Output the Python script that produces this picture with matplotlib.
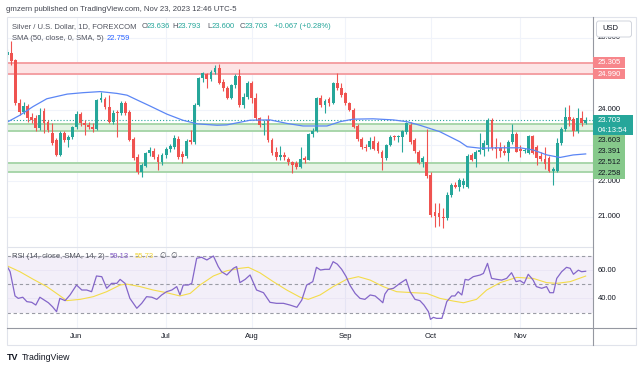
import numpy as np
import pandas as pd
import matplotlib
matplotlib.use("Agg")
import matplotlib.pyplot as plt
from matplotlib.patches import Rectangle, FancyBboxPatch

plt.rcParams['font.family'] = ['Liberation Sans', 'DejaVu Sans']

# ---------------- data ----------------
dates = pd.bdate_range('2023-05-09', '2023-11-23')

opens = [
    25.52, 25.59, 25.38, 24.19, 23.94, 24.10, 23.79, 23.75, 23.47, 23.95,
    23.66, 23.35, 23.15, 22.73, 23.34, 23.15, 23.22, 23.50, 23.87, 23.61,
    23.58, 23.52, 23.45, 24.27, 24.28, 24.08, 23.66, 23.93, 23.90, 24.19,
    23.94, 23.17, 22.66, 22.26, 22.42, 22.78, 22.85, 22.68, 22.54, 22.73,
    22.89, 22.95, 23.18, 22.75, 22.70, 23.15, 23.10, 24.13, 24.87, 24.98,
    24.84, 25.06, 25.15, 24.78, 24.59, 24.31, 24.68, 24.94, 24.13, 24.34,
    24.75, 24.31, 23.75, 23.57, 23.72, 23.15, 22.80, 22.66, 22.72, 22.62,
    22.52, 22.51, 22.40, 22.64, 22.60, 23.31, 23.41, 24.31, 24.13, 24.28,
    24.18, 24.73, 24.61, 24.45, 24.17, 23.99, 23.54, 23.17, 22.96, 22.94,
    23.12, 23.06, 22.82, 22.64, 23.01, 23.24, 23.22, 23.24, 23.38, 23.57,
    23.15, 22.82, 22.54, 22.52, 22.17, 21.15, 21.10, 21.00, 20.96, 21.61,
    21.89, 21.84, 21.90, 21.84, 22.72, 22.62, 22.81, 22.87, 23.00, 23.71,
    22.95, 22.92, 22.85, 22.78, 23.10, 23.32, 22.90, 22.85, 22.78, 23.27,
    22.96, 22.70, 22.62, 22.64, 22.29, 22.29, 23.06, 23.45, 23.78, 23.73,
    23.41, 23.75, 23.636]
highs = [
    25.70, 25.90, 25.42, 24.30, 24.22, 24.15, 23.90, 23.85, 24.04, 24.05,
    23.72, 23.62, 23.20, 23.40, 23.40, 23.30, 23.55, 23.95, 23.92, 23.70,
    23.65, 23.62, 24.30, 24.50, 24.35, 24.40, 23.98, 24.00, 24.25, 24.25,
    24.00, 23.22, 22.75, 22.50, 22.82, 22.95, 22.92, 22.75, 22.78, 22.95,
    23.05, 23.30, 23.25, 22.85, 23.18, 23.42, 24.18, 24.92, 25.05, 25.02,
    25.10, 25.24, 25.27, 24.85, 24.65, 24.72, 25.00, 25.12, 24.45, 24.80,
    24.80, 24.45, 23.80, 23.70, 23.85, 23.20, 22.96, 22.98, 22.80, 22.68,
    22.55, 22.55, 22.96, 22.70, 23.35, 23.48, 24.35, 24.40, 24.30, 24.35,
    24.78, 25.01, 24.75, 24.50, 24.22, 24.05, 23.60, 23.22, 23.05, 23.22,
    23.25, 23.12, 22.88, 23.05, 23.28, 23.30, 23.30, 23.42, 23.66, 23.65,
    23.20, 22.88, 22.70, 23.45, 22.25, 21.40, 21.38, 21.25, 21.70, 21.95,
    21.98, 22.10, 22.08, 22.75, 22.78, 22.86, 23.34, 23.15, 23.75, 23.75,
    23.20, 23.10, 23.00, 23.15, 23.60, 23.38, 23.00, 22.92, 23.30, 23.30,
    23.00, 22.80, 22.96, 22.70, 22.38, 23.20, 23.50, 24.08, 24.12, 23.78,
    24.05, 23.95, 23.793]
lows = [
    25.45, 25.25, 24.12, 23.85, 23.88, 23.66, 23.62, 23.40, 23.42, 23.35,
    23.38, 23.00, 22.70, 22.70, 23.10, 22.95, 23.18, 23.45, 23.55, 23.30,
    23.45, 23.38, 23.42, 24.20, 24.02, 23.62, 23.60, 23.24, 23.85, 23.85,
    23.12, 22.60, 22.20, 22.12, 22.38, 22.70, 22.62, 22.31, 22.45, 22.65,
    22.82, 22.90, 22.62, 22.50, 22.65, 23.05, 23.05, 24.10, 24.78, 24.59,
    24.80, 25.00, 24.70, 24.52, 24.28, 24.28, 24.60, 24.08, 24.05, 24.30,
    24.17, 23.70, 23.50, 23.29, 23.10, 22.72, 22.60, 22.60, 22.60, 22.45,
    22.24, 22.35, 22.36, 22.50, 22.58, 23.22, 23.38, 24.08, 23.91, 24.10,
    24.15, 24.55, 24.35, 24.12, 23.95, 23.48, 23.12, 22.90, 22.85, 22.90,
    22.86, 22.78, 22.31, 22.60, 22.98, 23.15, 23.10, 22.82, 23.32, 23.05,
    22.78, 22.48, 22.40, 22.10, 21.00, 20.73, 20.75, 20.68, 20.90, 21.55,
    21.80, 21.72, 21.80, 21.80, 22.55, 22.40, 22.75, 22.70, 22.85, 22.88,
    22.64, 22.68, 22.72, 22.55, 23.05, 22.80, 22.66, 22.78, 22.75, 22.75,
    22.45, 22.55, 22.35, 22.25, 21.89, 22.25, 23.00, 23.40, 23.55, 23.26,
    23.35, 23.55, 23.600]
closes = [
    25.61, 25.36, 24.17, 23.94, 24.10, 23.75, 23.71, 23.47, 23.85, 23.62,
    23.43, 23.06, 22.73, 23.34, 23.15, 23.24, 23.50, 23.87, 23.61, 23.57,
    23.52, 23.45, 24.27, 24.31, 24.08, 23.66, 23.91, 23.90, 24.19, 23.91,
    23.15, 22.64, 22.26, 22.45, 22.78, 22.87, 22.68, 22.54, 22.72, 22.89,
    22.98, 23.20, 22.68, 22.68, 23.12, 23.10, 24.13, 24.87, 25.01, 24.84,
    25.06, 25.15, 24.75, 24.59, 24.31, 24.68, 24.94, 24.13, 24.36, 24.75,
    24.31, 23.75, 23.57, 23.60, 23.15, 22.78, 22.66, 22.72, 22.68, 22.52,
    22.45, 22.40, 22.62, 22.60, 23.31, 23.41, 24.31, 24.13, 24.25, 24.18,
    24.73, 24.61, 24.41, 24.17, 23.99, 23.52, 23.17, 22.96, 22.93, 23.11,
    22.91, 22.83, 22.64, 23.01, 23.24, 23.22, 23.24, 23.41, 23.61, 23.10,
    22.83, 22.50, 22.64, 22.14, 21.05, 21.03, 21.00, 20.96, 21.61, 21.89,
    21.84, 22.03, 22.00, 22.70, 22.60, 22.81, 22.87, 23.06, 23.71, 22.92,
    22.90, 22.85, 22.78, 23.10, 23.32, 22.82, 22.85, 22.88, 23.27, 22.78,
    22.64, 22.62, 22.48, 22.29, 22.33, 23.06, 23.45, 23.78, 23.72, 23.41,
    23.75, 23.63, 23.703]

# SMA(50) read at bar positions
sma_pos = [0, 3.1, 6.3, 9.7, 14.7, 18.6, 22.8, 26.9, 29.4, 31.8, 35.0, 39.2, 43.1,
           46.6, 51.5, 53.9, 59.6, 64.5, 68.7, 72.6, 78.5, 81.7, 84.9, 89.8, 94.7,
           98.1, 101.3, 106.2, 111.1, 112.9, 116.1, 120.9, 125.9, 129.1, 132.5,
           135.7, 138.9, 142]
sma_val = [23.65, 23.84, 24.08, 24.30, 24.43, 24.47, 24.50, 24.45, 24.40, 24.27,
           24.10, 23.87, 23.70, 23.60, 23.56, 23.57, 23.70, 23.71, 23.61, 23.54,
           23.54, 23.66, 23.73, 23.74, 23.71, 23.66, 23.56, 23.38, 23.10, 22.96,
           22.92, 22.93, 22.93, 22.87, 22.73, 22.66, 22.73, 22.759]

# RSI(14) read at bar positions
rsi_pos = [0, 0.7, 1.9, 2.7, 3.8, 4.8, 6.0, 7.0, 8.0, 9.1, 10.1, 11.1, 12.1, 12.9, 14.2,
           15.4, 17.0, 18.3, 19.5, 20.7, 21.9, 23.2, 24.4, 25.6, 26.9, 27.7, 28.9, 30.1,
           31.8, 33.0, 34.2, 35.5, 36.7, 37.9, 39.1, 40.4, 41.6, 42.4, 43.2, 44.4, 45.3,
           46.5, 47.7, 49.0, 50.6, 51.8, 52.6, 53.9, 55.5, 56.3, 57.1, 58.4, 59.6, 61.2,
           62.9, 64.5, 66.1, 67.8, 69.4, 71.1, 72.3, 73.5, 75.0, 75.9, 76.9, 78.0, 79.1,
           80.0, 81.0, 82.1, 83.2, 84.1, 85.4, 86.6, 87.8, 89.1, 90.3, 91.5, 92.2, 92.7,
           93.5, 94.8, 96.4, 97.9, 98.9, 100.1, 101.3, 102.3, 103.4, 103.9, 104.6, 105.4,
           106.7, 107.2, 107.9, 109.1, 109.9, 110.7, 111.6, 112.4, 113.2, 114.4, 116.1,
           116.9, 117.9, 118.9, 120.2, 121.4, 122.6, 123.8, 124.9, 125.9, 126.9, 127.9,
           129.1, 129.9, 131.2, 132.4, 133.2, 134.1, 134.9, 136.1, 137.3, 138.2, 139.0,
           140.2, 141.0, 142]
rsi_val = [62.4, 58.8, 41.7, 40.0, 40.8, 37.7, 37.2, 35.3, 40.8, 38.8, 36.9, 34.1, 30.6,
           40.0, 38.4, 42.4, 49.4, 45.9, 45.9, 44.7, 55.8, 55.3, 47.1, 50.6, 50.6, 53.4,
           50.6, 40.0, 33.0, 36.5, 41.2, 40.8, 39.3, 42.4, 44.7, 45.9, 48.3, 42.4, 49.4,
           49.4, 50.6, 68.3, 69.0, 67.1, 69.9, 62.4, 58.8, 56.5, 61.2, 62.4, 51.1, 53.4,
           56.5, 45.9, 44.0, 37.2, 36.5, 36.5, 35.3, 33.7, 38.8, 49.4, 51.8, 61.9, 60.0,
           60.5, 60.5, 65.9, 64.2, 60.5, 55.3, 49.4, 43.5, 40.0, 39.3, 42.4, 41.7, 38.8,
           36.9, 43.0, 46.3, 47.1, 50.6, 53.4, 44.7, 39.3, 38.4, 35.3, 30.6, 25.2, 26.6,
           25.9, 25.9, 30.6, 37.7, 41.7, 41.7, 44.7, 42.4, 53.4, 52.9, 55.3, 56.5, 57.6,
           64.7, 54.1, 53.4, 52.9, 54.1, 58.1, 51.8, 52.5, 50.6, 57.0, 52.9, 48.3, 47.1,
           48.3, 44.0, 44.0, 54.1, 58.8, 61.9, 61.2, 57.0, 59.9, 58.8, 59.13]

# SMA(14) of RSI read at bar positions
rsma_pos = [0, 3.1, 6.4, 9.7, 12.1, 14.6, 17.9, 21.1, 24.4, 27.7, 29.3, 32.6, 35.8, 39.1,
            42.4, 44.9, 47.3, 50.6, 53.9, 57.1, 59.2, 62.0, 65.3, 68.6, 71.9, 73.9, 76.8,
            80.0, 83.3, 86.2, 89.1, 92.3, 95.6, 99.7, 103.0, 106.2, 109.5, 112.0, 115.2,
            117.7, 121.0, 125.1, 129.1, 132.4, 134.9, 138.2, 142]
rsma_val = [62.9, 58.8, 53.4, 48.3, 43.5, 38.4, 39.3, 41.2, 44.7, 49.4, 50.1, 48.3, 45.9,
            44.0, 41.7, 43.5, 49.4, 55.8, 59.5, 61.2, 61.9, 58.1, 51.8, 45.9, 40.8, 39.3,
            42.4, 48.3, 53.4, 55.3, 52.9, 48.3, 44.7, 44.0, 43.5, 40.0, 38.1, 36.9, 39.3,
            45.9, 51.1, 54.8, 54.1, 51.1, 50.6, 51.8, 55.73]

red_zone = (24.990, 25.305)
green_zones = [(23.391, 23.603), (22.258, 22.512)]
last_price = 23.703
countdown = "04:13:54"
price_ticks = [21, 22, 23, 24, 25, 26]
rsi_ticks = [40, 60]

UP, DN = '#26a69a', '#ef5350'

# ---------------- figure ----------------
W, H = 643, 369
fig = plt.figure(figsize=(W / 100, H / 100), dpi=100)
fig.patch.set_facecolor('white')

L, R = 7, 593
MT, MB, RB = 17, 247, 327.7
ax = fig.add_axes([L / W, 1 - MB / H, (R - L) / W, (MB - MT) / H])
rx = fig.add_axes([L / W, 1 - RB / H, (R - L) / W, (RB - MB) / H])
for a in (ax, rx):
    a.set_axis_off()
    a.set_xlim(-0.07, 143.8)
ax.set_ylim(20.159, 26.584)
rx.set_ylim(19.3, 76.25)

n = len(closes)
pos = np.arange(n)
o = np.array(opens); h = np.array(highs); l = np.array(lows); c = np.array(closes)
up = c >= o
cols = np.where(up, UP, DN)

# month starts
mstarts = [i for i in range(1, n) if dates[i].month != dates[i - 1].month]

# grids
for v in price_ticks:
    ax.axhline(v, color='#f0f3fa', lw=0.8, zorder=0)
for m in mstarts:
    ax.axvline(m, color='#f0f3fa', lw=0.8, zorder=0)
    rx.axvline(m, color='#f0f3fa', lw=0.8, zorder=0)

# zones
ax.axhspan(*red_zone, color='#fde4e5', zorder=1, lw=0)
for v in red_zone:
    ax.axhline(v, color='#f49a9d', lw=1.3, zorder=1.2)
for z in green_zones:
    ax.axhspan(*z, color='#e5f3e4', zorder=1, lw=0)
    for v in z:
        ax.axhline(v, color='#a3d3a5', lw=1.3, zorder=1.2)

# candles
ax.vlines(pos, l, h, colors=cols, lw=0.8, zorder=3)
body_min = 0.03
bot = np.minimum(o, c)
hgt = np.maximum(np.abs(c - o), body_min)
ax.bar(pos, hgt, bottom=bot, width=0.7, color=cols, lw=0, zorder=4)

# SMA
ax.plot(sma_pos, sma_val, color='#5b86f5', lw=0.9, zorder=5)
# last price line
ax.axhline(last_price, color=UP, lw=0.8, ls=(0, (1, 1.8)), zorder=2)

# RSI pane
rx.axhspan(30, 70, color='#7e57c2', alpha=0.09, lw=0, zorder=0)
for v in rsi_ticks:
    rx.axhline(v, color='#ebe6f5', lw=0.7, zorder=0.5)
for v in (70, 50, 30):
    rx.axhline(v, color='#9a9ca5', lw=0.8, ls=(0, (3, 2.5)), zorder=1)
rx.plot(rsma_pos, rsma_val, color='#f3dc4a', lw=0.8, zorder=3)
rx.plot(rsi_pos, rsi_val, color='#8466c9', lw=0.9, zorder=4)

# ---------------- overlay (text, axes furniture) ----------------
ov = fig.add_axes([0, 0, 1, 1])
ov.set_xlim(0, W); ov.set_ylim(H, 0)
ov.axis('off')

def price_py(p):
    return H - ax.transData.transform((0, p))[1]

def rsi_py(v):
    return H - rx.transData.transform((0, v))[1]

def pos_px(p):
    return ax.transData.transform((p, 0))[0]

# frame and separators
ov.add_patch(Rectangle((7, 17), 629, 328, fill=False, ec='#e0e3eb', lw=0.8))
ov.plot([7, 593], [247, 247], color='#e0e3eb', lw=0.8)
ov.plot([593, 593], [17, 345], color='#9598a1', lw=0.8)
ov.plot([7, 636], [327.7, 327.7], color='#9598a1', lw=0.8)

FS = 5.5
TXT = '#131722'

# stacked price labels (computed first so hidden ticks can be skipped)
labels = [(red_zone[1], 'red'), (red_zone[0], 'red'), (last_price, 'last')]
for z in green_zones:
    labels += [(z[1], 'green'), (z[0], 'green')]
half = 5.4
prev_bottom = -1e9
boxes = []
for price, kind in labels:
    up_half = 5.0 if kind == 'last' else half
    down_ext = 15.0 if kind == 'last' else half
    cy = max(price_py(price), prev_bottom + up_half)
    top, bottom = cy - up_half, cy + down_ext
    prev_bottom = bottom
    boxes.append((price, kind, cy, top, bottom))

# price axis ticks (those not covered by a label box)
for v in price_ticks:
    yy = price_py(v)
    if any(t - 1 <= yy <= b + 1 for _, _, _, t, b in boxes):
        continue
    ov.text(598, yy, f"{v:.3f}", va='center', ha='left', fontsize=FS, color=TXT, zorder=2)
for v in rsi_ticks:
    ov.text(598, rsi_py(v), f"{v:.2f}", va='center', ha='left', fontsize=FS, color=TXT)

for price, kind, cy, top, bottom in boxes:
    if kind == 'red':
        fc, tc, wdt = '#f7868b', 'white', 32
    elif kind == 'green':
        fc, tc, wdt = '#86c98b', TXT, 32
    else:
        fc, tc, wdt = UP, 'white', 40
    ov.add_patch(Rectangle((593, top), wdt, bottom - top, fc=fc, ec='none', zorder=5))
    ov.text(597.5, cy, f"{price:.3f}", va='center', ha='left', fontsize=FS, color=tc, zorder=6)
    if kind == 'last':
        ov.text(597.5, cy + 10, countdown, va='center', ha='left', fontsize=FS, color=tc, zorder=6)

# USD box
ov.add_patch(FancyBboxPatch((596.5, 21), 35, 16, boxstyle='round,pad=0,rounding_size=2.5',
                            fc='white', ec='#d1d4dc', lw=0.7, zorder=5))
ov.text(602, 29, 'USD', va='center', ha='left', fontsize=FS, color=TXT, zorder=6)

# date labels
for m in mstarts:
    ov.text(pos_px(m), 337, dates[m].strftime('%b'), ha='center', va='center',
            fontsize=FS, color=TXT)

# header
ov.text(6, 9.3, "gmzern published on TradingView.com, Nov 23, 2023 12:46 UTC-5",
        ha='left', va='center', fontsize=5.6, color='#434651')

# legend line 1
GRAY = '#50535e'
y1 = 26.8
ov.text(11.7, y1, "Silver / U.S. Dollar, 1D, FOREXCOM", ha='left', va='center', fontsize=FS, color=GRAY)
seg = [(141.3, "O", GRAY), (146.5, f"{opens[-1]:.3f}", UP), (172.8, "H", GRAY),
       (178.0, f"{highs[-1]:.3f}", UP), (207.5, "L", GRAY), (212.0, f"{lows[-1]:.3f}", UP),
       (239.8, "C", GRAY), (245.0, f"{closes[-1]:.3f}", UP)]
for x, t, col in seg:
    ov.text(x, y1, t, ha='left', va='center', fontsize=FS, color=col)
chg = closes[-1] - opens[-1]
ov.text(274, y1, f"+{chg:.3f} (+{chg / (closes[-1] - chg) * 100:.2f}%)", ha='left', va='center',
        fontsize=FS, color=UP)
# legend line 2
ov.text(11.7, 38.8, "SMA (50, close, 0, SMA, 5)", ha='left', va='center', fontsize=FS, color=GRAY)
ov.text(106.7, 38.8, f"{sma_val[-1]:.3f}", ha='left', va='center', fontsize=FS, color='#2962ff')

# RSI legend
yr = 256.7
ov.text(12.3, yr, "RSI (14, close, SMA, 14, 2)", ha='left', va='center', fontsize=FS, color=GRAY)
ov.text(110, yr, f"{rsi_val[-1]:.2f}", ha='left', va='center', fontsize=FS, color='#7e57c2')
ov.text(134.3, yr, f"{rsma_val[-1]:.2f}", ha='left', va='center', fontsize=FS, color='#f0d43a')
ov.text(159.3, yr, "∅", ha='left', va='center', fontsize=FS, color=GRAY)
ov.text(170, yr, "∅", ha='left', va='center', fontsize=FS, color=GRAY)

# TradingView logo
ov.text(7, 357.5, "TV", ha='left', va='center', fontsize=6.5, color='#131722', fontweight='bold')
ov.text(21.7, 357.5, "TradingView", ha='left', va='center', fontsize=6.3, color='#131722')

fig.savefig('out.png', dpi=100, facecolor='white')
